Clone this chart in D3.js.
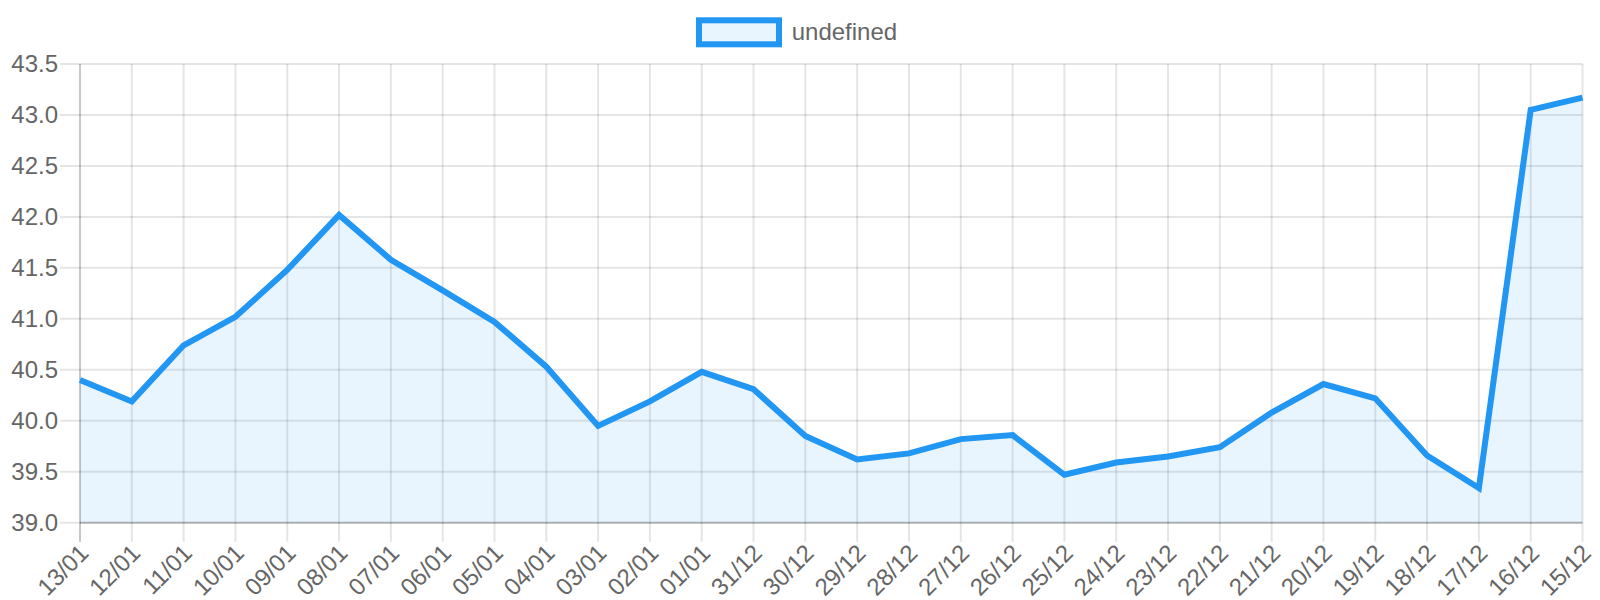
<!DOCTYPE html>
<html>
<head>
<meta charset="utf-8">
<script src="https://cdn.jsdelivr.net/npm/d3@7"></script>
<style>
  body { margin: 0; background: #fff; }
  text { font-family: "Liberation Sans", Arial, sans-serif; }
</style>
</head>
<body>
<div id="chart"></div>
<script>
// Category labels (newest first, as in the chart)
const labels = ["13/01", "12/01", "11/01", "10/01", "09/01", "08/01", "07/01", "06/01", "05/01", "04/01",
    "03/01", "02/01", "01/01", "31/12", "30/12", "29/12", "28/12", "27/12", "26/12", "25/12",
    "24/12", "23/12", "22/12", "21/12", "20/12", "19/12", "18/12", "17/12", "16/12", "15/12"];

// Series values
const values = [40.40, 40.19, 40.74, 41.02, 41.48, 42.02, 41.58, 41.28, 40.97, 40.53,
    39.95, 40.19, 40.48, 40.31, 39.85, 39.62, 39.68, 39.82, 39.86, 39.47,
    39.59, 39.65, 39.74, 40.08, 40.36, 40.22, 39.66, 39.34, 43.05, 43.17];

const yTicks = [39.0, 39.5, 40.0, 40.5, 41.0, 41.5, 42.0, 42.5, 43.0, 43.5];
const legendLabel = "undefined";

// Dimensions
const W = 1600, H = 600;
const margin = {top: 64, right: 17.5, bottom: 77.3, left: 80};
const lineColor = "#2196f3";
const fillColor = "rgba(33,150,243,0.1)";
const gridColor = "rgba(0,0,0,0.1)";
const axisColor = "rgba(0,0,0,0.22)";
const textColor = "#666";

const svg = d3.select("#chart")
  .append("svg")
    .attr("width", W)
    .attr("height", H);

const x = d3.scalePoint()
    .domain(labels)
    .range([margin.left, W - margin.right]);

const y = d3.scaleLinear()
    .domain([39, 43.5])
    .range([H - margin.bottom, margin.top]);

const bottom = y(39);

// Horizontal grid lines (with tick marks sticking out to the left)
svg.append("g")
  .selectAll("line")
  .data(yTicks)
  .join("line")
    .attr("x1", margin.left - 20)
    .attr("x2", W - margin.right)
    .attr("y1", d => y(d))
    .attr("y2", d => y(d))
    .attr("stroke", gridColor)
    .attr("stroke-width", 2);

// Vertical grid lines (with tick marks below the axis)
svg.append("g")
  .selectAll("line")
  .data(labels.slice(1))
  .join("line")
    .attr("x1", d => x(d))
    .attr("x2", d => x(d))
    .attr("y1", margin.top)
    .attr("y2", bottom + 19)
    .attr("stroke", gridColor)
    .attr("stroke-width", 2);

// Area under the line
const area = d3.area()
    .x((d, i) => x(labels[i]))
    .y0(bottom)
    .y1(d => y(d));

svg.append("path")
    .datum(values)
    .attr("d", area)
    .attr("fill", fillColor);

// Axis lines
svg.append("line")
    .attr("x1", x(labels[0]))
    .attr("x2", x(labels[0]))
    .attr("y1", margin.top)
    .attr("y2", bottom + 19)
    .attr("stroke", axisColor)
    .attr("stroke-width", 2);

svg.append("line")
    .attr("x1", margin.left)
    .attr("x2", W - margin.right)
    .attr("y1", bottom)
    .attr("y2", bottom)
    .attr("stroke", axisColor)
    .attr("stroke-width", 2);

// The line itself
const line = d3.line()
    .x((d, i) => x(labels[i]))
    .y(d => y(d));

svg.append("path")
    .datum(values)
    .attr("d", line)
    .attr("fill", "none")
    .attr("stroke", lineColor)
    .attr("stroke-width", 6)
    .attr("stroke-linejoin", "miter");

// Y tick labels
svg.append("g")
  .selectAll("text")
  .data(yTicks)
  .join("text")
    .attr("x", margin.left - 22)
    .attr("y", d => y(d))
    .attr("dy", "0.35em")
    .attr("text-anchor", "end")
    .attr("fill", textColor)
    .style("font-size", "24px")
    .text(d => d3.format(".1f")(d));

// X tick labels, rotated
svg.append("g")
  .selectAll("text")
  .data(labels)
  .join("text")
    .attr("transform", d => `translate(${x(d) + 4},${bottom + 26}) rotate(-45)`)
    .attr("dy", "0.35em")
    .attr("text-anchor", "end")
    .attr("fill", textColor)
    .style("font-size", "24px")
    .text(d => d);

// Legend
const legend = svg.append("g");
legend.append("rect")
    .attr("x", 699)
    .attr("y", 20.3)
    .attr("width", 80)
    .attr("height", 24)
    .attr("fill", fillColor)
    .attr("stroke", lineColor)
    .attr("stroke-width", 6);
legend.append("text")
    .attr("x", 791.7)
    .attr("y", 40)
    .attr("fill", textColor)
    .style("font-size", "24px")
    .text(legendLabel);
</script>
</body>
</html>
